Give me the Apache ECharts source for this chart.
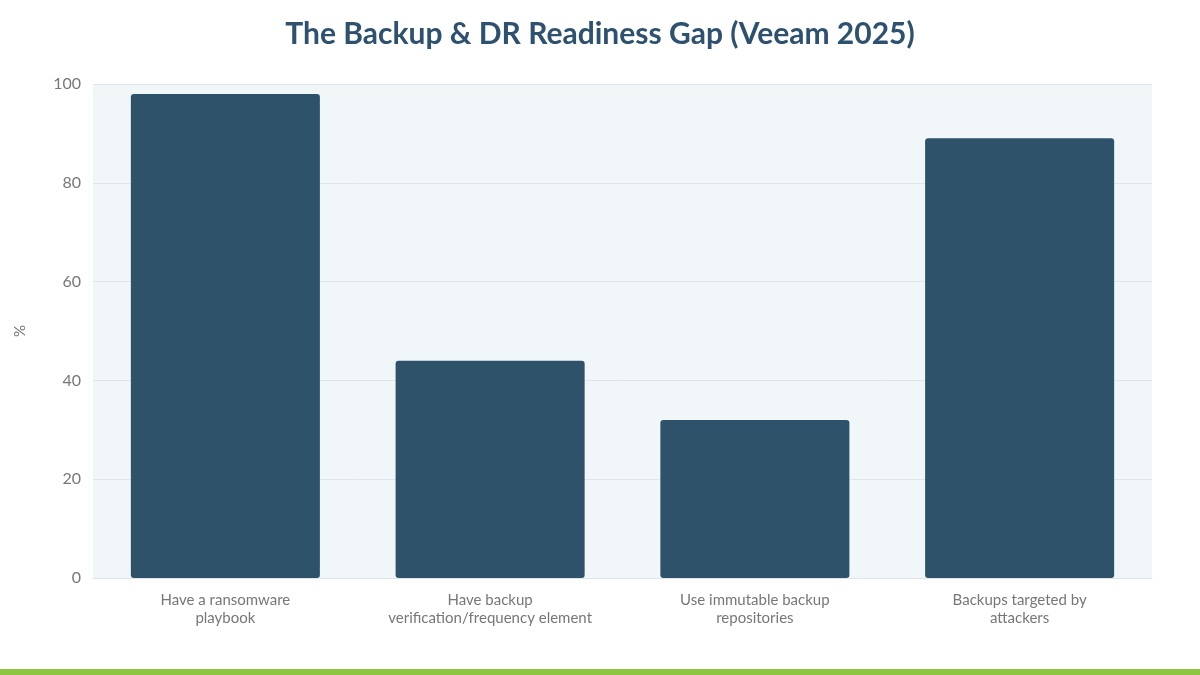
<!DOCTYPE html>
<html>
<head>
<meta charset="utf-8">
<script src="https://cdn.jsdelivr.net/npm/echarts@6/dist/echarts.min.js"></script>
<style>
  html,body{margin:0;padding:0;background:#fff;}
  #chart{width:1200px;height:675px;}
</style>
</head>
<body>
<div id="chart"></div>
<script>
var categories=['Have a ransomware\nplaybook','Have backup\nverification/frequency element','Use immutable backup\nrepositories','Backups targeted by\nattackers'];
var values=[98,44,32,89];
var yTicks=[0,20,40,60,80,100];

var chart=echarts.init(document.getElementById('chart'));
var option={
  backgroundColor:'#ffffff',
  textStyle:{fontFamily:'Lato'},
  title:{
    text:'The Backup & DR Readiness Gap (Veeam 2025)',
    left:'center',
    top:14,
    textStyle:{fontFamily:'Lato',fontSize:30,fontWeight:'bold',color:'#2e5170'}
  },
  grid:{left:93,right:48,top:84,bottom:97,show:true,backgroundColor:'#f1f6f9',borderWidth:0},
  xAxis:{
    type:'category',
    data:categories,
    axisLine:{show:true,lineStyle:{color:'#dfe5ea',width:1}},
    axisTick:{show:false},
    axisLabel:{color:'#777777',fontSize:15,lineHeight:18,margin:13,interval:0}
  },
  yAxis:{
    type:'value',
    min:yTicks[0],
    max:yTicks[yTicks.length-1],
    interval:20,
    name:'%',
    nameLocation:'middle',
    nameGap:65,
    nameTextStyle:{color:'#777777',fontSize:15},
    axisLine:{show:false},
    axisTick:{show:false},
    splitLine:{lineStyle:{color:'#dfe5ea',width:1}},
    axisLabel:{color:'#777777',fontSize:16,margin:12}
  },
  series:[{
    type:'bar',
    data:values,
    barCategoryGap:'28.6%',
    itemStyle:{color:'#2f526b',borderRadius:3}
  }],
  graphic:[{
    type:'rect',
    left:0,
    top:669,
    shape:{width:1200,height:6},
    style:{fill:'#8cc63f'}
  }]
};
chart.setOption(option);
</script>
</body>
</html>
